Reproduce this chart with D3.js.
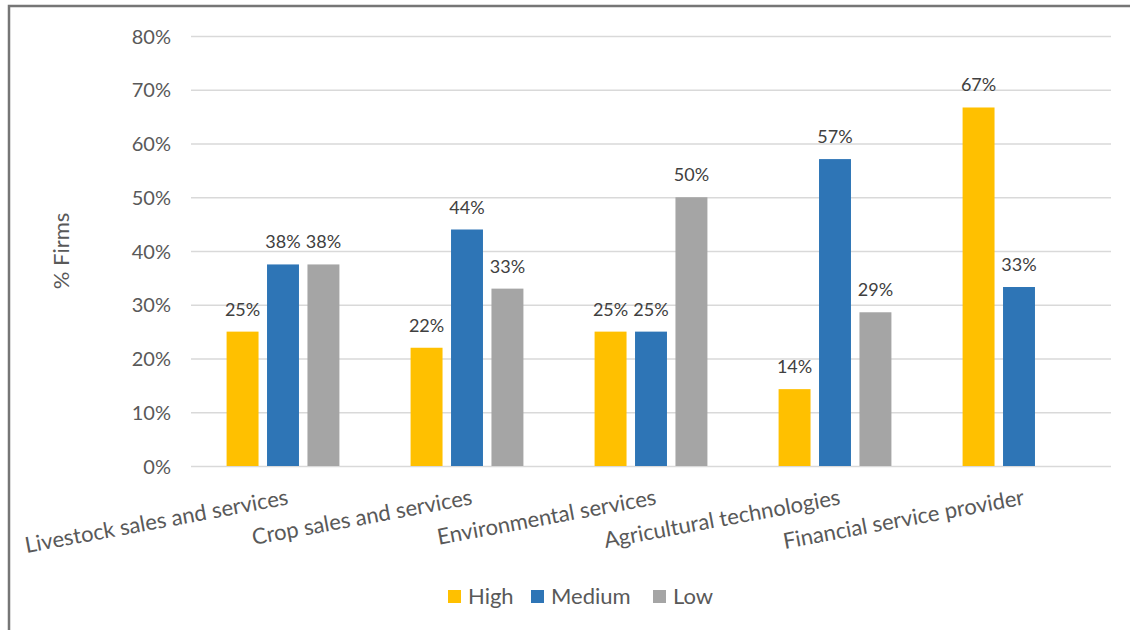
<!DOCTYPE html>
<html><head><meta charset="utf-8">
<script src="https://cdn.jsdelivr.net/npm/d3@7"></script>
<style>body{margin:0;background:#fff;} svg{display:block;font-family:Lato, "Open Sans", sans-serif;}</style>
</head><body>
<svg id="c" width="1130" height="630"></svg>
<script>
const categories = ["Livestock sales and services","Crop sales and services","Environmental services","Agricultural technologies","Financial service provider"];
const seriesNames = ["High","Medium","Low"];
const highValues = [0.25, 0.22, 0.25, 0.143, 0.667];
const mediumValues = [0.375, 0.44, 0.25, 0.571, 0.333];
const lowValues = [0.375, 0.33, 0.50, 0.286, null];
const colors = ["#FFC000","#2E75B6","#A5A5A5"];
const yTicks = [0,0.1,0.2,0.3,0.4,0.5,0.6,0.7,0.8];

const series = [highValues, mediumValues, lowValues];
const svg = d3.select("#c");

// chart frame
svg.append("path").attr("d","M9,1130 L9,6 L1130,6").attr("fill","none").attr("stroke","#767676").attr("stroke-width",2.5);

const x0 = d3.scaleBand().domain(categories).range([191,1111]).paddingInner(0).paddingOuter(0);
const y = d3.scaleLinear().domain([0,0.8]).range([466,36]);
const x1 = d3.scaleBand().domain(seriesNames).range([0,x0.bandwidth()]).paddingInner(0.21).paddingOuter(0.88);

// gridlines
const yAxis = d3.axisLeft(y).tickValues(yTicks).tickFormat(d3.format(".0%")).tickSize(-(1111-191)).tickPadding(20);
const ga = svg.append("g").attr("transform","translate(191,0)").call(yAxis);
ga.select(".domain").remove();
ga.selectAll(".tick line").attr("stroke","#D9D9D9").attr("stroke-width",1.5);
ga.selectAll(".tick text").attr("fill","#595959").attr("font-size",20).attr("font-family","Lato").attr("dy","0.35em");

// bars
const groups = svg.append("g").selectAll("g").data(categories).join("g")
  .attr("transform", d => `translate(${x0(d)},0)`);
seriesNames.forEach((s, si) => {
  groups.each(function(cat, ci){
    const v = series[si][ci];
    if (v == null) return;
    const g = d3.select(this);
    g.append("rect").attr("x", x1(s)).attr("width", x1.bandwidth())
      .attr("y", y(v)).attr("height", y(0)-y(v)).attr("fill", colors[si]);
    g.append("text").attr("x", x1(s)+x1.bandwidth()/2).attr("y", y(v)-16)
      .attr("text-anchor","middle").attr("fill","#404040").attr("font-size",18)
      .text(d3.format(".0%")(v));
  });
});

// x axis labels
svg.append("g").selectAll("text").data(categories).join("text")
  .attr("transform", d => `translate(${x0(d)+x0.bandwidth()/2+3},${487}) rotate(-10.5)`)
  .attr("text-anchor","end").attr("dy","0.8em")
  .attr("fill","#595959").attr("font-size",22).text(d => d);

// y axis title
svg.append("text").attr("transform","translate(61,251) rotate(-90)")
  .attr("text-anchor","middle").attr("dy","0.35em").attr("fill","#595959").attr("font-size",22).text("% Firms");

// legend
const legendX = [448, 531, 653];
const lg = svg.append("g").selectAll("g").data(seriesNames).join("g")
  .attr("transform", (d,i) => `translate(${legendX[i]},590)`);
lg.append("rect").attr("width",13).attr("height",13).attr("fill",(d,i)=>colors[i]);
lg.append("text").attr("x",20).attr("y",6.5).attr("dy","0.35em").attr("fill","#595959").attr("font-size",22).text(d=>d);
</script>
</body></html>
